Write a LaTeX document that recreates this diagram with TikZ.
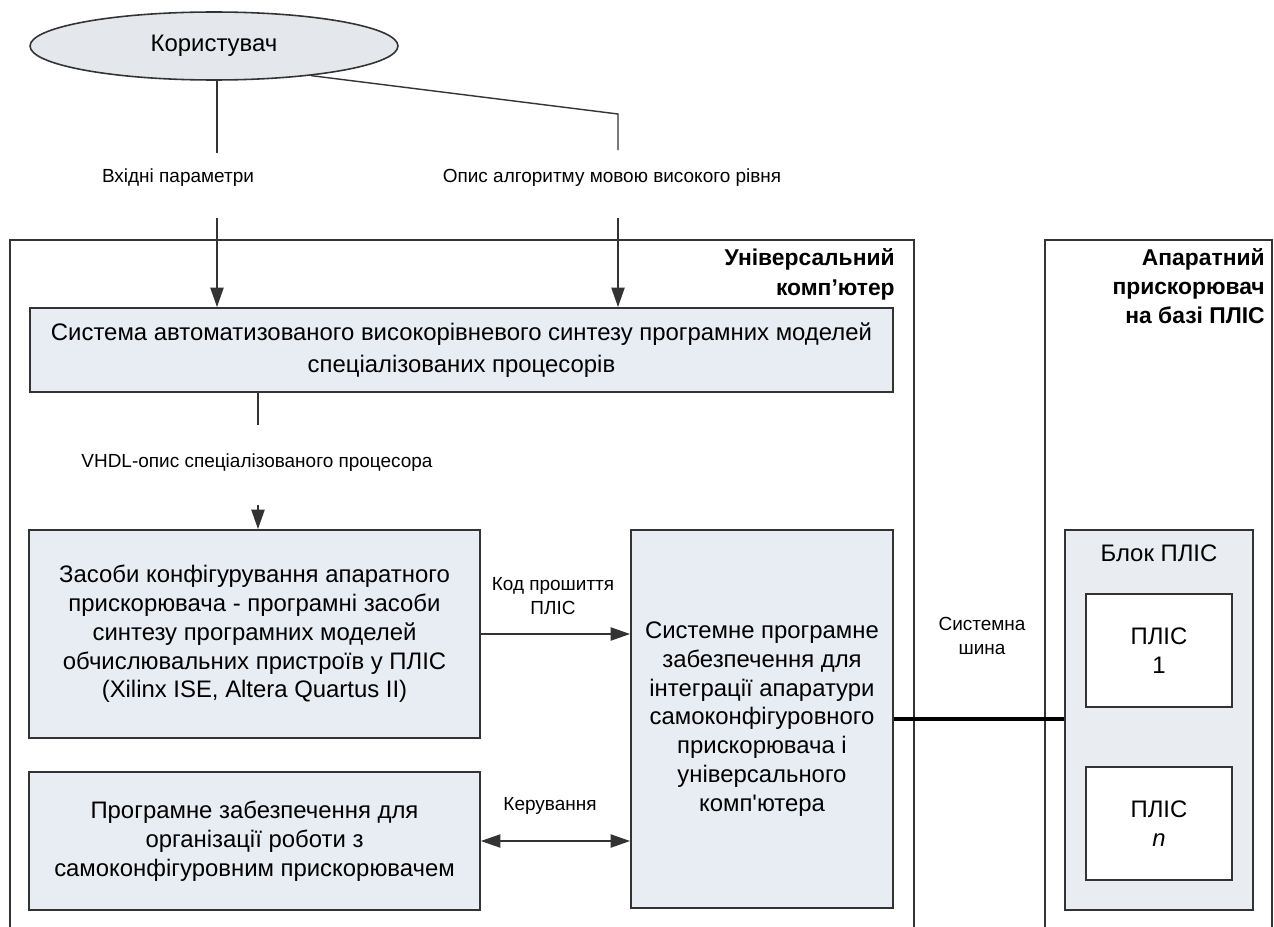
\documentclass[tikz,border=0pt]{standalone}
\usepackage{fontspec}
\setmainfont{Liberation Sans}
\usetikzlibrary{arrows.meta,shapes.geometric}
\definecolor{blokfon}{HTML}{E8ECF3}
\definecolor{ovalfon}{HTML}{E4E7EC}
\definecolor{plisfon}{HTML}{E9ECF1}
\definecolor{kontur}{HTML}{333333}
\tikzset{
  blok/.style={draw=kontur, line width=1.1pt, fill=blokfon, align=center, inner sep=0pt,
    font=\fontsize{13.6}{16.4}\selectfont},
  ramka/.style={draw=kontur, line width=0.8pt},
  nazva/.style={align=right, inner sep=0pt, font=\bfseries\fontsize{13}{17}\selectfont},
  mitka/.style={align=center, inner sep=0pt, font=\fontsize{10.8}{13.6}\selectfont},
  lin/.style={draw=kontur, line width=0.8pt},
  strilka/.style={lin, -{Triangle[length=11pt,width=7.5pt]}},
  dvostrilka/.style={lin, {Triangle[length=11pt,width=7.5pt]}-{Triangle[length=11pt,width=7.5pt]}},
  shyna/.style={draw=black, line width=2.4pt}
}
\begin{document}
\begin{tikzpicture}[x=0.02cm,y=-0.02cm]
\useasboundingbox (0,0) rectangle (1274,926);

\draw[ramka] (10,940) -- (10,240) -- (914,240) -- (914,940) ;
\draw[ramka] (1045,940) -- (1045,240) -- (1272,240) -- (1272,940) ;
\node[nazva, anchor=east] (komp) at (895,274) {Універсальний\\комп’ютер};
\node[nazva, anchor=east, font=\bfseries\fontsize{13}{16.4}\selectfont] (pryskor) at (1265,286) {Апаратний\\прискорювач\\на базі ПЛІС};

\node[ellipse, draw=kontur, line width=0.9pt, fill=ovalfon, minimum width=7.36cm, minimum height=1.36cm,
  inner sep=0pt, font=\fontsize{13.6}{16.4}\selectfont] (korystuvach) at (214,46) {Користувач};

\node[blok, font=\fontsize{13.6}{18}\selectfont, minimum width=17.26cm, minimum height=1.68cm] (syntez) at (461.5,350)
  {Система автоматизованого високорівневого синтезу програмних моделей\\спеціалізованих процесорів};
\node[blok, minimum width=9.02cm, minimum height=4.16cm] (zasoby) at (254.5,634)
  {Засоби конфігурування апаратного\\прискорювача - програмні засоби\\синтезу програмних моделей\\обчислювальних пристроїв у ПЛІС\\(Xilinx ISE, Altera Quartus II)};
\node[blok, minimum width=9.02cm, minimum height=2.76cm] (robota) at (254.5,841)
  {Програмне забезпечення для\\організації роботи з\\самоконфігуровним прискорювачем};
\node[blok, minimum width=5.24cm, minimum height=7.56cm] (systemne) at (762,719)
  {Системне програмне\\забезпечення для\\інтеграції апаратури\\самоконфігуровного\\прискорювача і\\універсального\\комп\textquotesingle ютера};

\begin{scope}[shift={(1159,720)}]
\node[blok, fill=plisfon, minimum width=3.76cm, minimum height=7.6cm] (blokplis) at (0,0) {};
\node[blok, fill=none, draw=none] (blokname) at (0,-167) {Блок ПЛІС};
\node[blok, fill=white, minimum width=2.92cm, minimum height=2.26cm] (plis1) at (0,-69.5) {ПЛІС\\1};
\node[blok, fill=white, minimum width=2.92cm, minimum height=2.26cm] (plisn) at (0,103.5) {ПЛІС\\\textit{n}};
\end{scope}

\node[mitka] (vhidni) at (178,178) {Вхідні параметри};
\node[mitka] (opys) at (612,178) {Опис алгоритму мовою високого рівня};
\node[mitka] (vhdl) at (257,463) {VHDL-опис спеціалізованого процесора};
\node[mitka] (kod) at (553,596) {Код прошиття\\ПЛІС};
\node[mitka] (keruv) at (550,806) {Керування};
\node[mitka] (shynatxt) at (982,636) {Системна\\шина};

\coordinate (v1) at (217,153) ;
\coordinate (v1b) at (217,218) ;
\coordinate (v2a) at (618,114) ;
\coordinate (v2) at (618,150) ;
\coordinate (v2b) at (618,218) ;
\coordinate (v3) at (258,425) ;
\coordinate (v3b) at (258,505) ;

\draw[lin] (korystuvach.south -| v1) -- (v1) ;
\draw[strilka] (v1b) -- (syntez.north -| v1b) ;
\draw[lin] (korystuvach.-17) -- (v2a) -- (v2) ;
\draw[strilka] (v2b) -- (syntez.north -| v2b) ;
\draw[lin] (syntez.south -| v3) -- (v3) ;
\draw[strilka] (v3b) -- (zasoby.north -| v3b) ;
\draw[strilka] (zasoby.east) -- (zasoby.east -| systemne.west) ;
\draw[dvostrilka] (robota.east) -- (robota.east -| systemne.west) ;
\draw[shyna] (systemne.east) -- (systemne.east -| blokplis.west) ;
\end{tikzpicture}
\end{document}
